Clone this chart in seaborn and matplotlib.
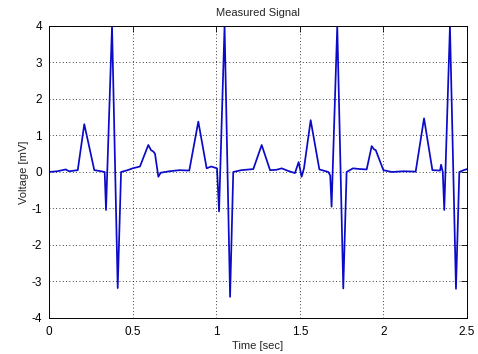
import pandas as pd
import matplotlib
matplotlib.use("Agg")
import matplotlib.pyplot as plt
import seaborn as sns

# key points of the trace
time_sec = [0.0, 0.05, 0.08, 0.10, 0.12, 0.172, 0.211, 0.271, 0.30, 0.333,
            0.341, 0.377, 0.411, 0.431, 0.47, 0.50, 0.544, 0.594, 0.610, 0.624,
            0.634, 0.654, 0.668, 0.72, 0.78, 0.839, 0.893, 0.943, 0.97, 1.005,
            1.017, 1.05, 1.083, 1.102, 1.15, 1.222, 1.272, 1.322, 1.36, 1.392,
            1.43, 1.471, 1.493, 1.511, 1.525, 1.565, 1.617, 1.671, 1.682, 1.690,
            1.724, 1.760, 1.780, 1.818, 1.86, 1.90, 1.93, 1.944, 1.954, 2.0,
            2.05, 2.12, 2.193, 2.243, 2.293, 2.339, 2.345, 2.355, 2.364, 2.398,
            2.434, 2.454, 2.48, 2.5]
voltage_mv = [0.0, 0.02, 0.05, 0.07, 0.02, 0.05, 1.31, 0.05, 0.03, 0.0,
              -1.04, 4.0, -3.18, 0.0, 0.05, 0.1, 0.15, 0.74, 0.6, 0.56,
              0.5, -0.13, -0.02, 0.02, 0.05, 0.04, 1.38, 0.1, 0.15, 0.1,
              -1.08, 4.0, -3.42, 0.0, 0.05, 0.08, 0.74, 0.05, 0.06, 0.1,
              0.03, -0.03, 0.27, -0.13, 0.1, 1.42, 0.07, 0.0, -0.1, -0.95,
              4.0, -3.19, 0.0, 0.1, 0.08, 0.07, 0.71, 0.62, 0.6, 0.05,
              0.0, 0.02, 0.01, 1.47, 0.05, 0.04, 0.2, 0.0, -1.04, 4.0,
              -3.2, 0.0, 0.05, 0.08]

x_ticks = [0, 0.5, 1, 1.5, 2, 2.5]
x_tick_labels = ["0", "0.5", "1", "1.5", "2", "2.5"]
y_ticks = [-4, -3, -2, -1, 0, 1, 2, 3, 4]
y_tick_labels = ["-4", "-3", "-2", "-1", "0", "1", "2", "3", "4"]

df = pd.DataFrame({"Time": time_sec, "Voltage": voltage_mv})

sns.set_style("white")
plt.rcParams["font.family"] = ["Liberation Sans", "DejaVu Sans"]
plt.rcParams["axes.unicode_minus"] = False

fig = plt.figure(figsize=(4.78, 3.54), dpi=100)
ax = fig.add_axes([0.1025, 0.1017, 0.8745, 0.8249])

sns.lineplot(
    data=df, x="Time", y="Voltage",
    sort=False, estimator=None,
    color="#0a0ac8", linewidth=1.25, ax=ax
)

ax.set_xlim(0, 2.5)
ax.set_ylim(-4, 4)
ax.set_xticks(x_ticks)
ax.set_xticklabels(x_tick_labels)
ax.set_yticks(y_ticks)
ax.set_yticklabels(y_tick_labels)

ax.grid(True, color="black", linestyle=(0, (1, 3)), linewidth=0.6)
ax.tick_params(direction="in", length=4, width=0.6, top=True, right=True,
               labelsize=8.5, colors="black")
ax.tick_params(axis="x", pad=6)
ax.tick_params(axis="y", pad=5)
for s in ax.spines.values():
    s.set_color("black")
    s.set_linewidth(0.7)

ax.set_title("Measured Signal", fontsize=8, pad=7)
ax.set_xlabel("Time [sec]", fontsize=8, labelpad=2)
ax.set_ylabel("Voltage [mV]", fontsize=8, labelpad=2)

fig.savefig("out.png", dpi=100)
